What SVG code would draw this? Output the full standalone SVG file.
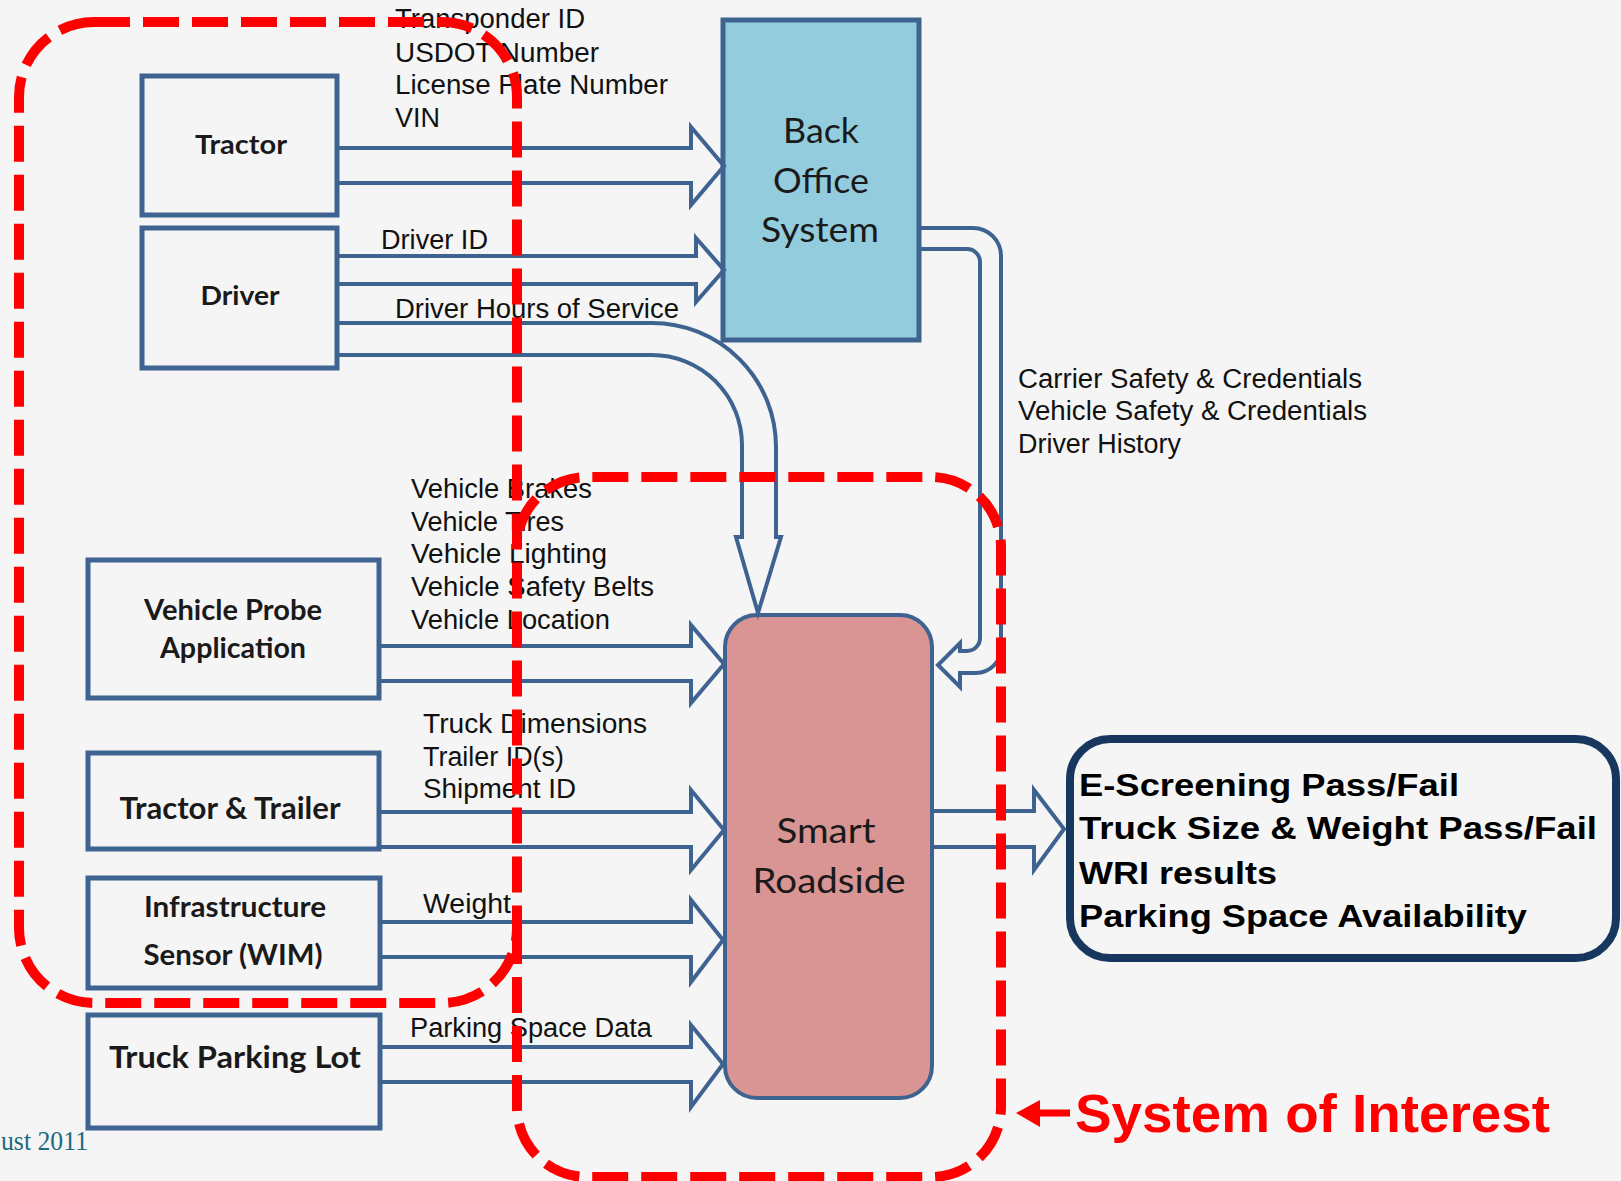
<svg xmlns="http://www.w3.org/2000/svg" width="1621" height="1181" viewBox="0 0 1621 1181">
  <defs>
    <style>
      .box { fill: none; stroke: #3F6391; stroke-width: 5; }
      .arrow { fill: none; stroke: #3F6391; stroke-width: 4; stroke-linejoin: miter; }
      .node-label { font-family: Lato, "Liberation Sans", sans-serif; font-weight: bold; fill: #1a1a1a; text-anchor: middle; }
      .core-label { font-family: Lato, "Liberation Sans", sans-serif; fill: #1a1a1a; text-anchor: middle; font-size: 34px; }
      .flow-label { font-family: "Liberation Sans", Arial, sans-serif; font-size: 27px; fill: #111; }
      .out-label { font-family: "Liberation Sans", Arial, sans-serif; font-weight: bold; font-size: 32px; fill: #000; }
      .boundary { fill: none; stroke: #FF0000; stroke-width: 10; stroke-dasharray: 36 13; }
    </style>
  </defs>

  <!-- slide background -->
  <rect x="0" y="0" width="1621" height="1181" fill="#F5F5F5"/>

  <!-- external entities -->
  <g id="tractor">
    <rect class="box" x="142" y="76" width="195" height="139"/>
    <text class="node-label" x="241" y="154" font-size="26" textLength="92" lengthAdjust="spacingAndGlyphs">Tractor</text>
  </g>
  <g id="driver">
    <rect class="box" x="142" y="228" width="195" height="140"/>
    <text class="node-label" x="240" y="305" font-size="26" textLength="79" lengthAdjust="spacingAndGlyphs">Driver</text>
  </g>
  <g id="vehicle-probe">
    <rect class="box" x="88" y="560" width="291" height="138"/>
    <text class="node-label" x="233" y="620" font-size="28" textLength="178" lengthAdjust="spacingAndGlyphs">Vehicle Probe</text>
    <text class="node-label" x="233" y="658" font-size="28" textLength="146" lengthAdjust="spacingAndGlyphs">Application</text>
  </g>
  <g id="tractor-trailer">
    <rect class="box" x="88" y="753" width="291" height="96"/>
    <text class="node-label" x="230" y="819" font-size="30" textLength="221" lengthAdjust="spacingAndGlyphs">Tractor &amp; Trailer</text>
  </g>
  <g id="infrastructure-sensor">
    <rect class="box" x="88" y="878" width="292" height="110"/>
    <text class="node-label" x="235" y="917" font-size="28" textLength="182" lengthAdjust="spacingAndGlyphs">Infrastructure</text>
    <text class="node-label" x="233" y="965" font-size="28" textLength="179" lengthAdjust="spacingAndGlyphs">Sensor (WIM)</text>
  </g>
  <g id="truck-parking-lot">
    <rect class="box" x="88" y="1015" width="292" height="113"/>
    <text class="node-label" x="235" y="1068" font-size="30" textLength="252" lengthAdjust="spacingAndGlyphs">Truck Parking Lot</text>
  </g>

  <!-- core systems -->
  <g id="back-office">
    <rect x="723" y="20" width="196" height="320" fill="#93CDDD" stroke="#3F6391" stroke-width="5"/>
    <text class="core-label" x="821" y="143" textLength="76" lengthAdjust="spacingAndGlyphs">Back</text>
    <text class="core-label" x="821" y="193" textLength="96" lengthAdjust="spacingAndGlyphs">Office</text>
    <text class="core-label" x="820" y="242" textLength="118" lengthAdjust="spacingAndGlyphs">System</text>
  </g>
  <g id="smart-roadside">
    <rect x="725" y="615" width="207" height="483" rx="32" ry="32" fill="#D99594" stroke="#3F6391" stroke-width="4"/>
    <text class="core-label" x="826" y="843" font-size="33" textLength="99" lengthAdjust="spacingAndGlyphs">Smart</text>
    <text class="core-label" x="829" y="893" font-size="33" textLength="153" lengthAdjust="spacingAndGlyphs">Roadside</text>
  </g>

  <!-- results -->
  <g id="results">
    <rect x="1070" y="739" width="546" height="219" rx="40" ry="40" fill="none" stroke="#17375E" stroke-width="8"/>
    <text class="out-label" x="1079" y="796" textLength="380" lengthAdjust="spacingAndGlyphs">E-Screening Pass/Fail</text>
    <text class="out-label" x="1079" y="839" textLength="518" lengthAdjust="spacingAndGlyphs">Truck Size &amp; Weight Pass/Fail</text>
    <text class="out-label" x="1079" y="884" textLength="198" lengthAdjust="spacingAndGlyphs">WRI results</text>
    <text class="out-label" x="1079" y="927" textLength="448" lengthAdjust="spacingAndGlyphs">Parking Space Availability</text>
  </g>

  <!-- data flows (hollow block arrows) and their labels -->
  <g id="connectors">
    <path class="arrow" d="M337,148 H691 V127 L724,166 L691,205 V183 H337"/>
    <path class="arrow" d="M337,256 H696 V238 L724,270 L696,302 V284 H337"/>
    <path class="arrow" d="M337,323 H652 A124,124 0 0 1 776,447 V537 H781 L758,613 L736,537 H742 V445 A90,90 0 0 0 652,355 H337"/>
    <path class="arrow" d="M919,228 H973 A28,28 0 0 1 1001,256 V648 A25,25 0 0 1 976,673 H960 V687 L938,665 L960,643 V651 H967 A13,13 0 0 0 980,638 V262 A13,13 0 0 0 967,249 H919"/>
    <path class="arrow" d="M379,646 H691 V625 L724,664 L691,703 V681 H379"/>
    <path class="arrow" d="M379,812 H691 V790 L724,830 L691,870 V847 H379"/>
    <path class="arrow" d="M380,922 H691 V900 L723,940 L691,982 V957 H380"/>
    <path class="arrow" d="M380,1047 H691 V1025 L723,1064 L691,1107 V1082 H380"/>
    <path class="arrow" d="M932,811 H1034 V790 L1064,829 L1034,870 V847 H932"/>

    <text class="flow-label" x="395" y="28" textLength="190" lengthAdjust="spacingAndGlyphs">Transponder ID</text>
    <text class="flow-label" x="395" y="62" textLength="204" lengthAdjust="spacingAndGlyphs">USDOT Number</text>
    <text class="flow-label" x="395" y="94" textLength="273" lengthAdjust="spacingAndGlyphs">License Plate Number</text>
    <text class="flow-label" x="395" y="127" textLength="45" lengthAdjust="spacingAndGlyphs">VIN</text>
    <text class="flow-label" x="381" y="249" textLength="107" lengthAdjust="spacingAndGlyphs">Driver ID</text>
    <text class="flow-label" x="395" y="318" textLength="284" lengthAdjust="spacingAndGlyphs">Driver Hours of Service</text>
    <text class="flow-label" x="1018" y="388" textLength="344" lengthAdjust="spacingAndGlyphs">Carrier Safety &amp; Credentials</text>
    <text class="flow-label" x="1018" y="420" textLength="349" lengthAdjust="spacingAndGlyphs">Vehicle Safety &amp; Credentials</text>
    <text class="flow-label" x="1018" y="453" textLength="163" lengthAdjust="spacingAndGlyphs">Driver History</text>
    <text class="flow-label" x="411" y="498" textLength="181" lengthAdjust="spacingAndGlyphs">Vehicle Brakes</text>
    <text class="flow-label" x="411" y="531" textLength="153" lengthAdjust="spacingAndGlyphs">Vehicle Tires</text>
    <text class="flow-label" x="411" y="563" textLength="196" lengthAdjust="spacingAndGlyphs">Vehicle Lighting</text>
    <text class="flow-label" x="411" y="596" textLength="243" lengthAdjust="spacingAndGlyphs">Vehicle Safety Belts</text>
    <text class="flow-label" x="411" y="629" textLength="199" lengthAdjust="spacingAndGlyphs">Vehicle Location</text>
    <text class="flow-label" x="423" y="733" textLength="224" lengthAdjust="spacingAndGlyphs">Truck Dimensions</text>
    <text class="flow-label" x="423" y="766" textLength="141" lengthAdjust="spacingAndGlyphs">Trailer ID(s)</text>
    <text class="flow-label" x="423" y="798" textLength="153" lengthAdjust="spacingAndGlyphs">Shipment ID</text>
    <text class="flow-label" x="423" y="913" textLength="88" lengthAdjust="spacingAndGlyphs">Weight</text>
    <text class="flow-label" x="410" y="1037" textLength="242" lengthAdjust="spacingAndGlyphs">Parking Space Data</text>
  </g>

  <!-- context boundary and system-of-interest boundary (shared edge drawn once) -->
  <g id="boundaries">
    <rect class="boundary" x="19" y="22" width="498" height="981" rx="75" ry="75"/>
    <path class="boundary" d="M517,928 V1107 A70,70 0 0 0 587,1177 H931 A70,70 0 0 0 1001,1107 V547 A70,70 0 0 0 931,477 H587 A70,70 0 0 0 517,547"/>
  </g>

  <g id="system-of-interest-label">
    <path d="M1070,1113 H1036" stroke="#FF0000" stroke-width="7" fill="none"/>
    <polygon points="1016,1113 1040,1100 1040,1127" fill="#FF0000"/>
    <text x="1075" y="1132" font-family="'Liberation Sans', Arial, sans-serif" font-weight="bold" font-size="53" fill="#FF0000" textLength="475" lengthAdjust="spacingAndGlyphs">System of Interest</text>
  </g>

  <!-- footer date -->
  <text x="1" y="1150" font-family="'Liberation Serif', serif" font-size="28" fill="#1B6A80" textLength="87" lengthAdjust="spacingAndGlyphs">ust 2011</text>
</svg>
